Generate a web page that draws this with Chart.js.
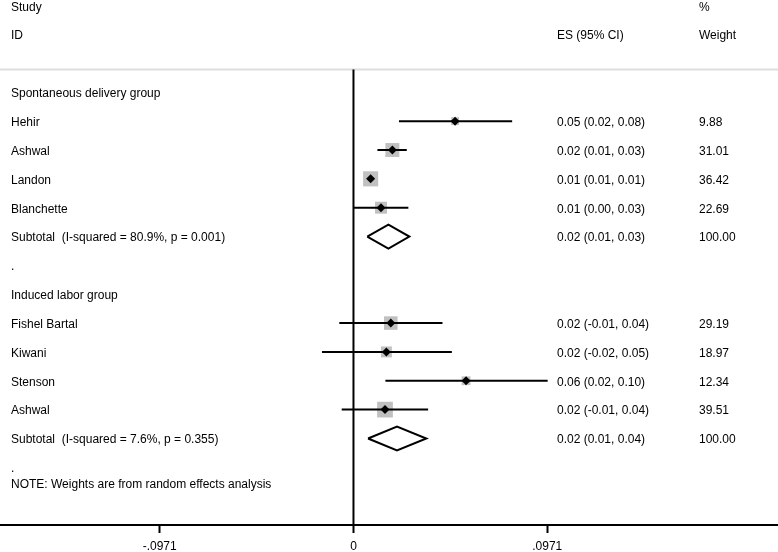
<!DOCTYPE html>
<html><head><meta charset="utf-8">
<script src="https://cdn.jsdelivr.net/npm/chart.js@4.4.0/dist/chart.umd.min.js"></script>
<style>html,body{margin:0;padding:0;background:#fff}#c{display:block}</style>
</head><body>
<canvas id="c" width="778" height="552"></canvas>
<script>
// ---- Data ----
const studyLabels = ["Hehir", "Ashwal", "Landon", "Blanchette", "Fishel Bartal", "Kiwani", "Stenson", "Ashwal"];
const studyRows   = [4, 5, 6, 7, 11, 12, 13, 14];
const studyES     = [0.0509, 0.0195, 0.0086, 0.0138, 0.0187, 0.0165, 0.0564, 0.0158];
const studyLo     = [0.0228, 0.0120, 0.0073, 0.0000, -0.0071, -0.0158, 0.0160, -0.0059];
const studyHi     = [0.0795, 0.0267, 0.0099, 0.0275, 0.0446, 0.0493, 0.0973, 0.0374];
const studyWeight = [9.88, 31.01, 36.42, 22.69, 29.19, 18.97, 12.34, 39.51];
const studyESText = ["0.05 (0.02, 0.08)", "0.02 (0.01, 0.03)", "0.01 (0.01, 0.01)", "0.01 (0.00, 0.03)",
                     "0.02 (-0.01, 0.04)", "0.02 (-0.02, 0.05)", "0.06 (0.02, 0.10)", "0.02 (-0.01, 0.04)"];
const studyWeightText = ["9.88", "31.01", "36.42", "22.69", "29.19", "18.97", "12.34", "39.51"];

const subLabels = ["Subtotal  (I-squared = 80.9%, p = 0.001)", "Subtotal  (I-squared = 7.6%, p = 0.355)"];
const subRows   = [8, 15];
const subES     = [0.0175, 0.0218];
const subLo     = [0.0069, 0.0073];
const subHi     = [0.0280, 0.0365];
const subESText = ["0.02 (0.01, 0.03)", "0.02 (0.01, 0.04)"];
const subWeightText = ["100.00", "100.00"];

const groupLabels = ["Spontaneous delivery group", "Induced labor group"];
const groupRows   = [3, 10];
const dotRows     = [9, 16];
const noteText    = "NOTE: Weights are from random effects analysis";
const noteRow     = 16.55;
const headerRuleRow = 2.21;

const tickValues = [-0.0971, 0, 0.0971];
const tickLabels = ["-.0971", "0", ".0971"];

// ---- Layout / style ----
const FONT = "Arial, 'Liberation Sans', Helvetica, sans-serif";
const COL_STUDY = 11, COL_ES = 557, COL_W = 699;
const TEXT_DY = 1.5;
const DIAMOND_HALF = 0.415;  // in row units
const BOX_SCALE = 2.5;
const X_AXIS_HEIGHT = 27;

const datasets = [];
// markers (top)
datasets.push({
  data: studyES.map((v, i) => ({x: v, y: studyRows[i]})),
  pointStyle: 'rectRot', pointRadius: 4.5, backgroundColor: '#000', borderColor: '#000',
  pointBorderWidth: 0, showLine: false, order: 0
});
// CI lines
studyES.forEach((v, i) => {
  datasets.push({
    data: [{x: studyLo[i], y: studyRows[i]}, {x: studyHi[i], y: studyRows[i]}],
    showLine: true, borderColor: '#000', borderWidth: 2, pointRadius: 0, order: 1
  });
});
// subtotal diamonds
subES.forEach((v, i) => {
  const r = subRows[i];
  datasets.push({
    data: [{x: subLo[i], y: r}, {x: v, y: r - DIAMOND_HALF}, {x: subHi[i], y: r}, {x: v, y: r + DIAMOND_HALF}, {x: subLo[i], y: r}],
    showLine: true, borderColor: '#000', borderWidth: 2, pointRadius: 0, fill: false, order: 1
  });
});
// weight boxes
datasets.push({
  data: studyES.map((v, i) => ({x: v, y: studyRows[i]})),
  pointStyle: 'rect',
  pointRadius: studyWeight.map(w => BOX_SCALE * Math.sqrt(w) / Math.SQRT2),
  backgroundColor: '#c0c0c0', borderColor: '#c0c0c0', pointBorderWidth: 0, showLine: false, order: 2
});

const forestPlugin = {
  id: 'forest',
  beforeDatasetsDraw(chart) {
    const ctx = chart.ctx, xs = chart.scales.x, ys = chart.scales.y;
    const yl = ys.getPixelForValue(headerRuleRow);
    ctx.save();
    ctx.strokeStyle = '#dedede'; ctx.lineWidth = 2;
    ctx.beginPath(); ctx.moveTo(0, yl); ctx.lineTo(chart.width, yl); ctx.stroke();
    const x0 = xs.getPixelForValue(0);
    ctx.strokeStyle = '#000';
    ctx.beginPath(); ctx.moveTo(x0, yl); ctx.lineTo(x0, chart.chartArea.bottom); ctx.stroke();
    ctx.restore();
  },
  afterDraw(chart) {
    const ctx = chart.ctx, ys = chart.scales.y;
    ctx.save();
    ctx.fillStyle = '#000';
    ctx.font = '12px ' + FONT;
    ctx.textBaseline = 'middle';
    ctx.textAlign = 'left';
    const t = (s, x, r) => ctx.fillText(s, x, ys.getPixelForValue(r) + TEXT_DY);
    t("Study", COL_STUDY, 0); t("ID", COL_STUDY, 1);
    t("%", COL_W, 0); t("Weight", COL_W, 1); t("ES (95% CI)", COL_ES, 1);
    groupLabels.forEach((s, i) => t(s, COL_STUDY, groupRows[i]));
    studyLabels.forEach((s, i) => {
      t(s, COL_STUDY, studyRows[i]);
      t(studyESText[i], COL_ES, studyRows[i]);
      t(studyWeightText[i], COL_W, studyRows[i]);
    });
    subLabels.forEach((s, i) => {
      t(s, COL_STUDY, subRows[i]);
      t(subESText[i], COL_ES, subRows[i]);
      t(subWeightText[i], COL_W, subRows[i]);
    });
    dotRows.forEach(r => t(".", COL_STUDY, r));
    t(noteText, COL_STUDY, noteRow);
    ctx.restore();
  }
};

new Chart(document.getElementById('c'), {
  type: 'scatter',
  data: {datasets},
  options: {
    responsive: false, animation: false, events: [],
    layout: {padding: 0, autoPadding: false},
    plugins: {legend: {display: false}, tooltip: {enabled: false}},
    scales: {
      x: {
        type: 'linear', min: -0.1771, max: 0.2127,
        afterBuildTicks: s => { s.ticks = tickValues.map(v => ({value: v})); },
        afterFit: s => { s.height = X_AXIS_HEIGHT; },
        ticks: {
          callback: (v, i) => tickLabels[i], font: {family: FONT, size: 12, lineHeight: 1.2},
          color: '#000', padding: 6, maxRotation: 0, autoSkip: false
        },
        grid: {drawOnChartArea: false, drawTicks: true, tickLength: 8, tickWidth: 2, tickColor: '#000'},
        border: {display: true, color: '#000', width: 2}
      },
      y: {type: 'linear', reverse: true, min: -0.2, max: 18, display: false}
    }
  },
  plugins: [forestPlugin]
});
</script>
</body></html>
